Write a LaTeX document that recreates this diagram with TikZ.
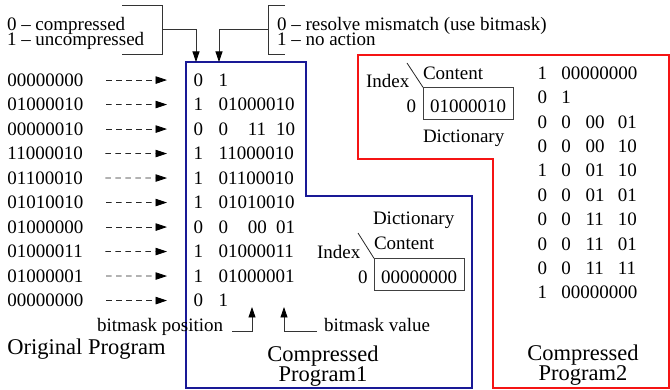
\documentclass[tikz,border=0pt]{standalone}
\usepackage{fontspec}
\setmainfont{Liberation Serif}
\usetikzlibrary{arrows.meta}
\definecolor{bluebox}{RGB}{25,25,150}
\definecolor{redbox}{RGB}{245,20,20}
\newcommand\fsn{\fontsize{19}{15}\selectfont}
\newcommand\fsc{\fontsize{22.5}{20}\selectfont}
\begin{document}
\begin{tikzpicture}[x=1pt,y=-1pt,
  txt/.style={inner sep=0pt, outer sep=0pt, anchor=base west, font=\fsn},
  captext/.style={inner sep=0pt, outer sep=0pt, anchor=base, font=\fsc},
  dasharrow/.style={draw=black!85, dash pattern=on 5.5pt off 4.5pt, line width=0.8pt,
    -{Triangle[length=11.5pt,width=7.5pt,color=black,fill=black]}, shorten <=22.5pt, shorten >=26.5pt},
  solidarrow/.style={draw=black!80, line width=0.8pt,
    -{Triangle[length=10.5pt,width=7pt,color=black,fill=black]}},
  bracketline/.style={draw=black!80, line width=0.8pt},
  dictbox/.style={draw=black!75, line width=0.9pt, inner sep=0pt, outer sep=0pt, anchor=north west,
    minimum width=90pt, minimum height=32.5pt, text height=18pt, text depth=0pt, font=\fsn},
  diagline/.style={draw=black!85, line width=0.8pt},
  frameline/.style={line width=1.4pt}
]
\useasboundingbox (0,0) rectangle (670,390);

% frames
\draw[frameline, draw=bluebox] (186,62) -- (306,62) -- (306,196) -- (472,196) -- (472,388) -- (186,388) -- cycle;
\draw[frameline, draw=redbox] (358,55) -- (669,55) -- (669,388) -- (493,388) -- (493,159) -- (358,159) -- cycle;

% top legends
\node[txt] (lc0) at (7,30.7) {0 – compressed};
\node[txt] (lc1) at (7,45.7) {1 – uncompressed};
\node[txt] (lr0) at (277,30.7) {0 – resolve mismatch (use bitmask)};
\node[txt] (lr1) at (277,45.7) {1 – no action};
\draw[bracketline] (122,5) -- (162,5) -- (162,54) -- (122,54);
\draw[bracketline] (285,5) -- (268,5) -- (268,54) -- (285,54);
\coordinate (bl) at (162,29.3);
\coordinate (br) at (268,29.3);
\coordinate (tipL) at (196,62);
\coordinate (tipR) at (219,62);
\draw[solidarrow] (bl) -| (tipL);
\draw[solidarrow] (br) -| (tipR);

% original program and compressed program 1
\foreach \i/\l/\a/\b in {1/00000000/0/1, 2/01000010/1/01000010, 3/00000010/0/0,
  4/11000010/1/11000010, 5/01100010/1/01100010, 6/01010010/1/01010010,
  7/01000000/0/0, 8/01000011/1/01000011, 9/01000001/1/01000001, 10/00000000/0/1}{
  \pgfmathsetmacro\yy{86.3+24.5*(\i-1)}
  \node[txt] (L\i) at (7.5,\yy) {\l};
  \node[txt] (A\i) at (193.5,\yy) {\a};
  \node[txt] (B\i) at (218.5,\yy) {\b};
  \draw[dasharrow] (L\i.east) -- (A\i.west);
}
\foreach \i/\c/\d in {3/11/10, 7/00/01}{
  \pgfmathsetmacro\yy{86.3+24.5*(\i-1)}
  \node[txt] (C\i) at (247.8,\yy) {\c};
  \node[txt] (D\i) at (276.2,\yy) {\d};
}

% compressed program 2
\foreach \i/\a/\b in {1/1/00000000, 2/0/1, 3/0/0, 4/0/0, 5/1/0, 6/0/0, 7/0/0, 8/0/0, 9/0/0, 10/1/00000000}{
  \pgfmathsetmacro\yy{79.3+24.4*(\i-1)}
  \node[txt] (E\i) at (537.5,\yy) {\a};
  \node[txt] (F\i) at (561.3,\yy) {\b};
}
\foreach \i/\c/\d in {3/00/01, 4/00/10, 5/01/10, 6/01/01, 7/11/10, 8/11/01, 9/11/11}{
  \pgfmathsetmacro\yy{79.3+24.4*(\i-1)}
  \node[txt] (G\i) at (585.5,\yy) {\c};
  \node[txt] (H\i) at (617.8,\yy) {\d};
}

% bitmask labels
\node[txt] (bmp) at (97,331.5) {bitmask position};
\node[txt] (bmv) at (324,331.5) {bitmask value};
\coordinate (tipP) at (252,307);
\coordinate (tipV) at (284,307);
\draw[solidarrow] ([xshift=9pt]bmp.base east) -| (tipP);
\draw[solidarrow] ([xshift=-7pt]bmv.base west) -| (tipV);

% dictionary of program 2
\node[txt] (rIndex) at (366,87.3) {Index};
\node[txt] (rContent) at (423,79.3) {Content};
\node[dictbox] (rbox) at (423,87.3) {01000010};
\node[txt] (rzero) at (406.5,112.7) {0};
\node[txt] (rDict) at (423,143) {Dictionary};
\coordinate (rdiag) at (407,63);
\draw[diagline] (rdiag) -- (rbox.north west);

% dictionary of program 1
\node[txt] (bDict) at (373,225) {Dictionary};
\node[txt] (bContent) at (374,250) {Content};
\node[txt] (bIndex) at (317,259) {Index};
\node[dictbox] (bbox) at (374,258.3) {00000000};
\node[txt] (bzero) at (358,283.3) {0};
\coordinate (bdiag) at (358,233);
\draw[diagline] (bdiag) -- (bbox.north west);

% captions
\node[txt, font=\fsc] (orig) at (7.5,355) {Original Program};
\node[captext] (c1a) at (323,361.5) {Compressed};
\node[captext] (c1b) at (323,381.5) {Program1};
\node[captext] (c2a) at (583,360.5) {Compressed};
\node[captext] (c2b) at (583,380.5) {Program2};
\end{tikzpicture}
\end{document}
